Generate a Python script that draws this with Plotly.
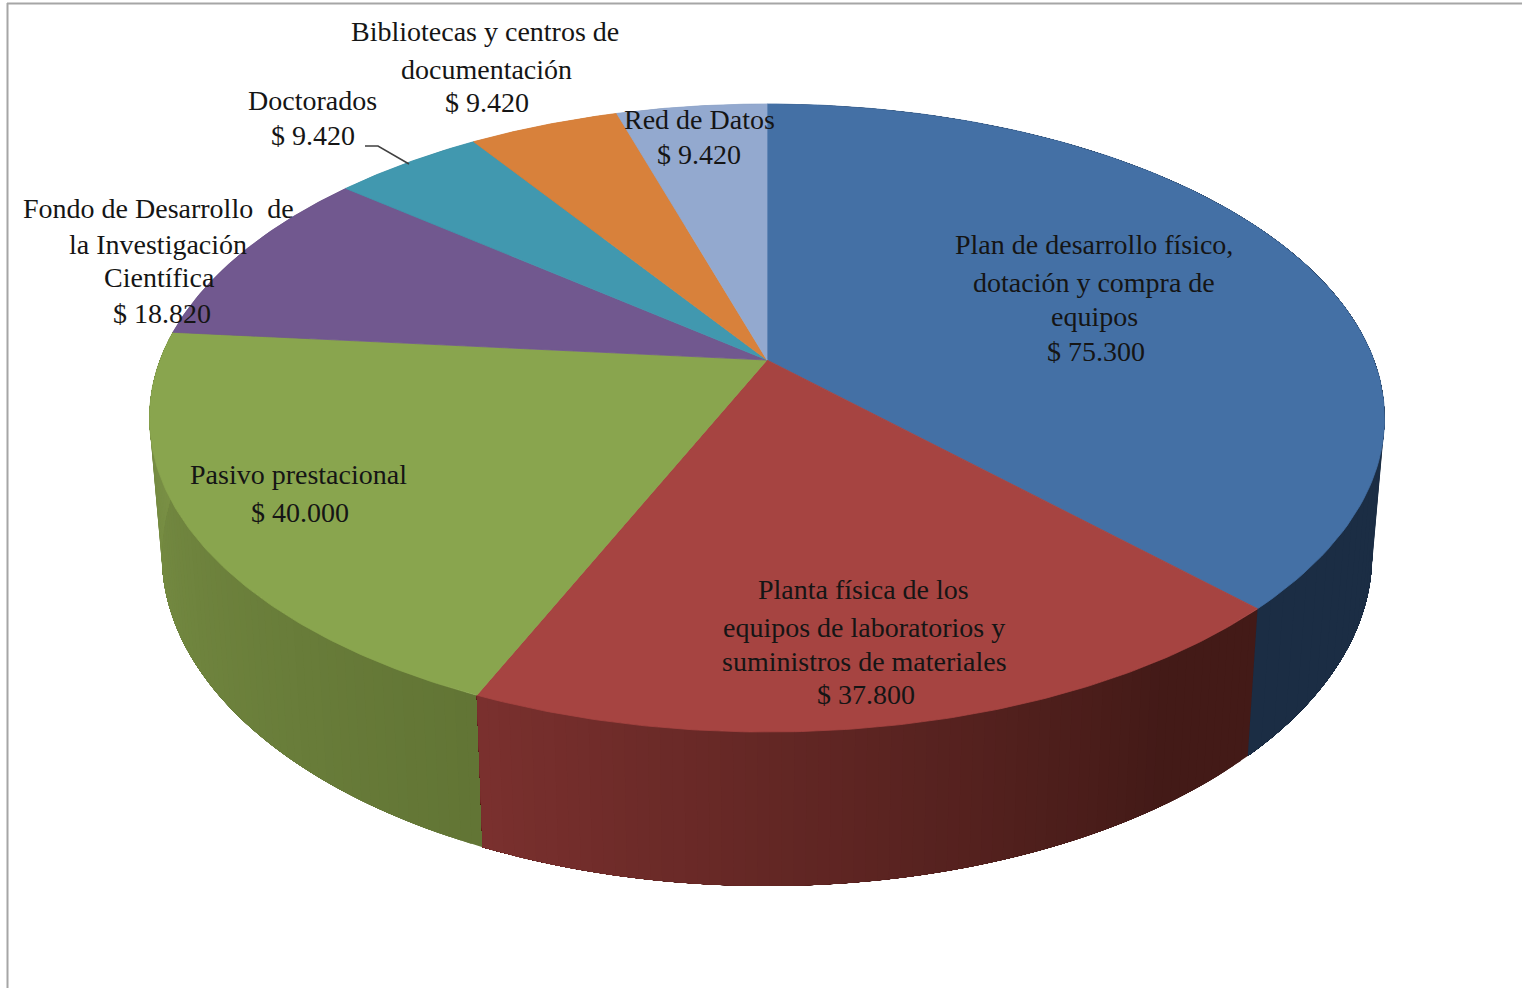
import numpy as np
import plotly.graph_objects as go

# ---- data ----
categories = [
    "Plan de desarrollo físico, dotación y compra de equipos",
    "Planta física de los equipos de laboratorios y suministros de materiales",
    "Pasivo prestacional",
    "Fondo de Desarrollo de la Investigación Científica",
    "Doctorados",
    "Bibliotecas y centros de documentación",
    "Red de Datos",
]
values = [75300, 37800, 40000, 18820, 9420, 9420, 9420]
label_lines = [
    ["Plan de desarrollo físico,", "dotación y compra de", "equipos"],
    ["Planta física de los", "equipos de laboratorios y", "suministros de materiales"],
    ["Pasivo prestacional"],
    ["Fondo de Desarrollo  de", "la Investigación", "Científica"],
    ["Doctorados"],
    ["Bibliotecas y centros de", "documentación"],
    ["Red de Datos"],
]

# ---- style ----
top_colors = ["#4470a5", "#a64441", "#89a54e", "#71588f", "#4198af", "#d8813b", "#93a9cf"]
# wall colour at the start and at the end of each slice (clockwise)
side_start = ["#1b2d44", "#431a17", "#627535", "#4b3a60", "#2b6575", "#91572a", "#62718a"]
side_end = ["#1b2d44", "#7a302e", "#7b9246", "#4b3a60", "#2b6575", "#91572a", "#62718a"]
side_flat = [0.0, 0.15, 0.0, 0.0, 0.0, 0.0, 0.0]  # share of the slice that stays at the start colour
label_pos = [
    [(1094, 244), (1094, 282), (1094, 316), (1096, 351)],
    [(863, 589), (864, 627), (864, 661), (866, 694)],
    [(298, 474), (300, 512)],
    [(158, 208), (158, 244), (159, 277), (162, 313)],
    [(312, 100), (313, 135)],
    [(485, 31), (486, 69), (487, 102)],
    [(699, 119), (699, 154)],
]
FONT = dict(family="Liberation Serif", size=28, color="#151515")
W, H = 1522, 988
CX, CY = 767.0, 360.0      # apex of the top face
A, B, K = 606.9, 303.3, 0.1847   # perspective of the top disc
ELL_CY = 418.0
BOT_CY, BOT_SX, BOT_SY = 555.0, 0.98, 1.054  # lower rim relative to the top rim


def rim(theta):
    x, y = np.sin(theta), np.cos(theta)
    w = 1 + K * y
    return CX + A * x / w, CY - B * y / w


def lower(px, py):
    return CX + BOT_SX * (px - CX), BOT_CY + BOT_SY * (py - ELL_CY)


def mix(c1, c2, t):
    a = [int(c1[i:i + 2], 16) for i in (1, 3, 5)]
    b = [int(c2[i:i + 2], 16) for i in (1, 3, 5)]
    return "rgb(%d,%d,%d)" % tuple(round(p + (q - p) * t) for p, q in zip(a, b))


def poly(xs, ys, color, lw=0.8):
    return go.Scatter(x=xs, y=ys, mode="lines", fill="toself", fillcolor=color,
                      line=dict(color=color, width=lw), hoverinfo="skip", showlegend=False)


vals = np.array(values, float)
edges = np.concatenate([[0], np.cumsum(vals)]) / vals.sum() * 2 * np.pi

fig = go.Figure()

# side wall: every visible slice is painted as a run of strips, each reaching
# to the end of the slice, so that no seam can open between neighbouring strips
for i in sorted(range(len(vals)), key=lambda k: np.cos((edges[k] + edges[k + 1]) / 2), reverse=True):
    n = 72 if i in (0, 1, 2) else 1
    t = np.linspace(edges[i], edges[i + 1], n + 1)
    for j in range(n):
        f = j / max(n - 1, 1)
        g = max(0.0, (f - side_flat[i]) / (1 - side_flat[i]))
        tt = np.linspace(t[j], edges[i + 1], 40)
        px, py = rim(tt)
        qx, qy = lower(px, py)
        fig.add_trace(poly(np.r_[px, qx[::-1], px[0]], np.r_[py, qy[::-1], py[0]],
                           mix(side_start[i], side_end[i], g), lw=0))

# top face
for i in range(len(vals)):
    tt = np.linspace(edges[i], edges[i + 1], 121)
    px, py = rim(tt)
    fig.add_trace(poly(np.r_[CX, px, CX], np.r_[CY, py, CY], top_colors[i]))

# leader line of "Doctorados"
fig.add_trace(go.Scatter(x=[365, 378, 409], y=[146, 146, 164], mode="lines",
                         line=dict(color="#404040", width=1.5), hoverinfo="skip", showlegend=False))

annotations = []
for lines, v, pos in zip(label_lines, values, label_pos):
    money = "$ " + f"{v:,}".replace(",", ".")
    for text, (x, y) in zip(lines + [money], pos):
        annotations.append(dict(x=x, y=y, text=text, showarrow=False, xanchor="center",
                                yanchor="middle", font=FONT, xref="x", yref="y"))

fig.update_layout(
    width=W, height=H, margin=dict(l=0, r=0, t=0, b=0),
    paper_bgcolor="white", plot_bgcolor="white", showlegend=False,
    xaxis=dict(range=[0, W], visible=False, fixedrange=True),
    yaxis=dict(range=[H, 0], visible=False, fixedrange=True),
    annotations=annotations,
    shapes=[
        dict(type="line", xref="x", yref="y", x0=7, y0=3.5, x1=W, y1=3.5,
             line=dict(color="#a6a6a6", width=2)),
        dict(type="line", xref="x", yref="y", x0=7.5, y0=3, x1=7.5, y1=H,
             line=dict(color="#a6a6a6", width=2)),
    ],
)

fig.write_html("out.html", config=dict(displayModeBar=False),
               post_script="document.body.style.margin='0';document.body.style.overflow='hidden';")
